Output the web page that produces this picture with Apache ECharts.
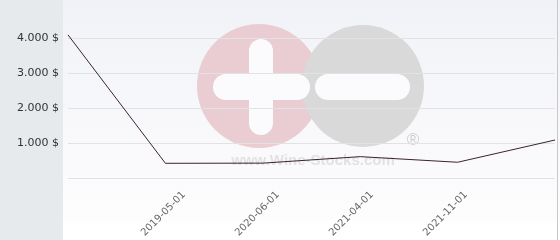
<!DOCTYPE html>
<html><head><meta charset="utf-8">
<script src="https://cdn.jsdelivr.net/npm/echarts@6/dist/echarts.min.js"></script>
<style>html,body{margin:0;padding:0;background:#fff}#c{width:560px;height:240px}</style>
</head><body><div id="c"></div>
<script>
var categories = ['2018-01-01', '2019-05-01', '2020-06-01', '2021-04-01', '2021-11-01', '2022-06-01'];
var prices = [4090, 420, 425, 610, 450, 1085];
var yTicks = [0, 1000, 2000, 3000, 4000, 5000];
var shownLabels = [1, 2, 3, 4];

var chart = echarts.init(document.getElementById('c'));
var font = 'DejaVu Sans';
var gridColors = yTicks.map(function (v, i) { return i === yTicks.length - 1 ? 'rgba(0,0,0,0)' : '#e2e2e4'; });

chart.setOption({
  animation: false,
  graphic: [
    { type: 'rect', shape: { x: 0, y: 0, width: 63, height: 240 }, style: { fill: '#e6eaed' }, z: -20 },
    { type: 'rect', shape: { x: 63, y: 0, width: 497, height: 240 }, z: -20,
      style: { fill: new echarts.graphic.LinearGradient(0, 0, 0, 1, [
        { offset: 0, color: '#f1f2f7' }, { offset: 0.92, color: '#fdfdfe' }, { offset: 0.93, color: '#ffffff' }, { offset: 1, color: '#ffffff' }]) } },
    { type: 'rect', shape: { x: 557, y: 0, width: 1, height: 240 }, style: { fill: '#c8c8c8' }, z: -19 },
    { type: 'circle', shape: { cx: 259, cy: 86, r: 62 }, style: { fill: '#e9cdd3' }, z: -5 },
    { type: 'circle', shape: { cx: 363, cy: 86, r: 61 }, style: { fill: '#d9d9d9' }, z: -5 },
    { type: 'rect', shape: { x: 249, y: 39, width: 24, height: 96, r: 12 }, style: { fill: '#fbfbfd' }, z: -5 },
    { type: 'rect', shape: { x: 213, y: 74, width: 97, height: 26, r: 13 }, style: { fill: '#fbfbfd' }, z: -5 },
    { type: 'rect', shape: { x: 315, y: 74, width: 95, height: 26, r: 13 }, style: { fill: '#fbfbfd' }, z: -5 },
    { type: 'text', x: 413, y: 140, style: { text: '\u00AE', font: '17px Liberation Sans', fill: '#cfcfcf', align: 'center', verticalAlign: 'middle' }, z: -5 },
    { type: 'text', x: 313, y: 161, style: { text: 'www.Wine-Stocks.com', font: 'bold 15px Liberation Sans', fill: '#e2e2e2', align: 'center', verticalAlign: 'middle' }, z: -5 }
  ],
  grid: [
    { left: 68, right: 5, top: 3, bottom: 62 },
    { left: 90, right: -17, top: 3, bottom: 62 }
  ],
  xAxis: [
    { type: 'category', gridIndex: 0, data: categories, boundaryGap: false,
      axisLine: { show: false }, axisTick: { show: false }, axisLabel: { show: false }, splitLine: { show: false } },
    { type: 'category', gridIndex: 1, data: categories, boundaryGap: false,
      axisLine: { show: false }, axisTick: { show: false }, splitLine: { show: false },
      axisLabel: { rotate: 45, margin: 18, fontFamily: font, fontSize: 10, color: '#666',
        interval: function (i) { return shownLabels.indexOf(i) >= 0; } } }
  ],
  yAxis: [
    { type: 'value', gridIndex: 0, min: yTicks[0], max: yTicks[yTicks.length - 1], interval: 1000,
      axisLine: { show: false }, axisTick: { show: false },
      splitLine: { show: true, lineStyle: { color: gridColors, width: 1 } },
      axisLabel: { margin: 9, fontFamily: font, fontSize: 11, color: '#333',
        formatter: function (v) { return (v === 0 || v === 5000) ? '' : (v / 1000).toFixed(3) + ' $'; } } },
    { type: 'value', gridIndex: 1, show: false, min: 0, max: 5000 }
  ],
  series: [
    { type: 'line', xAxisIndex: 0, yAxisIndex: 0, data: prices, symbol: 'none', z: 5,
      lineStyle: { color: '#3b2232', width: 1 } }
  ]
});
</script></body></html>
